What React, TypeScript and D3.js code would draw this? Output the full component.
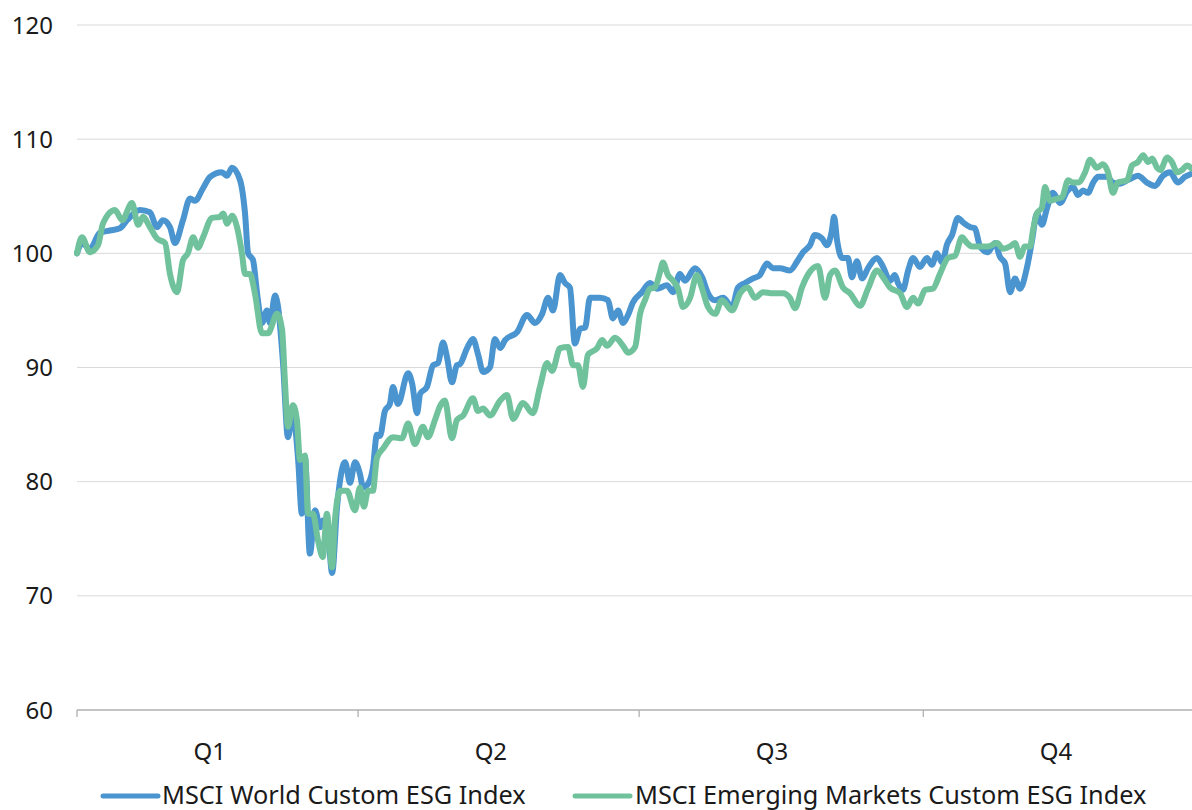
import * as d3 from "d3";

// [day offset from Jan 1, index level]
const world: [number, number][] = [
  [0, 100], [1.6, 100.9], [4.2, 100.4], [7.4, 101.8], [10.7, 102.0], [13.9, 102.2],
  [16.2, 102.9], [20.4, 103.8], [23.6, 103.6], [25.9, 102.3], [27.8, 102.9], [30.1, 102.3],
  [31.7, 100.9], [34.3, 102.9], [36.6, 104.8], [38.2, 104.6], [40.8, 105.7], [43.1, 106.7],
  [46.9, 107.1], [48.6, 106.8], [50.2, 107.5], [52.8, 106.4], [54.4, 103.5], [55.4, 100],
  [57.0, 99.4], [58.3, 96.5], [59.9, 93.9], [61.5, 95.0], [62.5, 93.9], [64.1, 96.3],
  [65.1, 95.3], [66.7, 90.4], [68.3, 83.9], [69.9, 86.0], [71.6, 81.9], [72.8, 77.2],
  [73.8, 82.1], [75.4, 73.7], [77.1, 77.5], [78.7, 76.0], [79.6, 76.6], [80.9, 76.6],
  [82.6, 72.0], [84.2, 77.8], [86.8, 81.7], [88.4, 79.9], [90.0, 81.7], [91.6, 80.7],
  [92.6, 79.5], [94.2, 79.8], [95.8, 81.2], [97.1, 84.1], [98.1, 84.0], [99.7, 86.2],
  [101.3, 86.8], [102.3, 88.3], [103.9, 86.8], [107.2, 89.5], [108.5, 88.6], [110.1, 86.0],
  [111.1, 87.7], [113.3, 88.3], [115.3, 90.2], [116.9, 90.4], [118.5, 92.2], [119.8, 90.9],
  [121.4, 88.7], [123.0, 90.2], [124.0, 90.3], [126.3, 91.7], [128.2, 92.5], [129.8, 91.2],
  [131.5, 89.6], [133.7, 90.0], [135.3, 92.5], [137.0, 91.7], [138.6, 92.4], [142.5, 93.1],
  [145.7, 94.6], [148.3, 93.9], [150.6, 94.7], [152.5, 96.1], [154.1, 95.0], [156.4, 98.1],
  [158.0, 97.4], [159.6, 97.0], [161.2, 92.1], [162.9, 93.4], [164.5, 93.5], [166.1, 96.1],
  [169.3, 96.1], [171.9, 95.9], [173.5, 94.3], [175.2, 95.0], [176.8, 93.9], [178.4, 94.6],
  [180.0, 95.7], [182.9, 96.6], [185.5, 97.4], [187.8, 96.9], [191.0, 97.2], [193.0, 96.6],
  [195.2, 98.2], [196.8, 97.6], [200.1, 98.7], [202.4, 97.9], [204.3, 96.5], [206.6, 95.9],
  [209.2, 96.1], [212.1, 95.3], [214.0, 97.0], [216.3, 97.4], [218.9, 97.8], [221.1, 98.1],
  [223.4, 99.1], [225.3, 98.7], [227.6, 98.7], [230.8, 98.5], [233.4, 99.4], [235.1, 100.1],
  [237.3, 100.7], [238.9, 101.6], [241.2, 101.3], [242.8, 100.7], [244.4, 102.0], [245.1, 103.2],
  [246.1, 101.1], [247.7, 99.6], [249.6, 99.6], [250.9, 97.9], [252.5, 99.3], [254.2, 97.8],
  [256.1, 98.7], [259.0, 99.6], [261.0, 98.8], [263.2, 97.6], [264.8, 98.1], [265.8, 97.4],
  [267.4, 96.8], [269.1, 98.5], [270.7, 99.6], [272.9, 98.8], [275.2, 99.6], [276.8, 99.0],
  [278.4, 100.0], [280.1, 99.2], [281.7, 100.8], [283.3, 101.6], [285.2, 103.1], [286.9, 102.7],
  [289.1, 102.3], [290.7, 102.2], [292.4, 100.6], [294.9, 100.1], [297.2, 100.9], [298.8, 99.7],
  [300.5, 99.1], [302.1, 96.6], [303.7, 97.8], [305.3, 96.9], [307.6, 98.8], [309.2, 101.1],
  [310.8, 103.5], [312.4, 102.5], [314.1, 104.0], [316.0, 105.3], [318.3, 104.4], [320.5, 105.4],
  [322.5, 105.8], [324.1, 105.1], [325.7, 105.5], [327.3, 105.3], [329.0, 106.2], [330.6, 106.7],
  [333.5, 106.7], [335.4, 106.2], [337.7, 106.1], [340.0, 106.4], [341.6, 106.6], [343.5, 106.8],
  [346.4, 106.2], [349.0, 105.9], [351.6, 106.8], [353.9, 107.1], [356.4, 106.2], [358.7, 106.7],
  [361.0, 107.0],
];

const emerging: [number, number][] = [
  [0, 100], [1.6, 101.4], [4.2, 100.1], [6.8, 100.7], [8.4, 102.6], [12.3, 103.8],
  [14.6, 102.9], [17.8, 104.4], [19.8, 102.5], [21.4, 103.2], [23.6, 102.3], [25.9, 101.3],
  [28.5, 100.9], [30.1, 98.2], [32.4, 96.6], [34.3, 99.4], [35.9, 100.0], [37.6, 101.4],
  [39.2, 100.5], [40.8, 101.4], [43.7, 103.1], [46.3, 103.2], [47.3, 103.5], [48.6, 102.6],
  [50.2, 103.3], [51.8, 102.3], [53.4, 100.0], [54.4, 98.2], [56.0, 98.2], [57.6, 96.5],
  [59.9, 93.0], [61.8, 93.0], [64.8, 94.7], [66.4, 93.3], [67.3, 88.9], [68.3, 84.8],
  [69.9, 86.7], [71.2, 85.4], [72.2, 81.9], [73.8, 82.3], [74.8, 77.2], [76.4, 77.2],
  [78.0, 74.9], [79.6, 73.4], [80.9, 77.2], [82.6, 72.5], [83.5, 76.6], [85.2, 79.2],
  [87.4, 79.2], [90.0, 77.5], [91.6, 79.5], [92.9, 77.8], [94.2, 79.2], [95.8, 79.2],
  [97.1, 82.1], [99.1, 82.9], [102.3, 83.9], [105.2, 83.8], [107.2, 85.1], [109.4, 83.3],
  [112.0, 84.8], [113.6, 83.9], [115.9, 85.4], [117.5, 86.6], [119.1, 87.1], [121.4, 83.8],
  [123.0, 85.4], [125.0, 85.8], [128.2, 87.3], [129.8, 86.2], [131.5, 86.4], [133.7, 85.8],
  [137.0, 87.1], [139.2, 87.6], [141.2, 85.5], [144.4, 86.9], [147.6, 86.0], [149.9, 88.3],
  [152.2, 90.4], [153.8, 89.7], [156.4, 91.7], [159.0, 91.8], [160.6, 90.2], [162.2, 90.2],
  [163.8, 88.3], [165.4, 91.1], [168.4, 91.7], [170.0, 92.4], [171.6, 91.9], [174.2, 92.6],
  [176.8, 91.9], [178.4, 91.3], [180.7, 91.8], [182.3, 94.7], [183.9, 95.9], [185.5, 96.9],
  [187.1, 97.0], [188.8, 98.4], [189.7, 99.2], [191.3, 98.1], [193.0, 97.6], [194.6, 96.9],
  [196.2, 95.3], [198.5, 96.1], [200.7, 98.1], [202.4, 96.9], [204.3, 95.3], [206.6, 94.7],
  [208.8, 95.9], [212.1, 95.0], [214.7, 96.5], [217.2, 97.0], [219.5, 96.1], [222.1, 96.6],
  [225.3, 96.5], [228.6, 96.5], [230.8, 96.1], [232.5, 95.2], [234.7, 97.0], [237.3, 98.4],
  [239.9, 98.9], [242.2, 96.1], [243.8, 98.1], [245.4, 98.5], [248.0, 97.0], [250.3, 96.5],
  [253.5, 95.4], [256.1, 96.9], [259.0, 98.5], [261.0, 97.9], [263.2, 97.0], [266.5, 96.5],
  [268.7, 95.3], [270.7, 96.1], [272.3, 95.6], [274.6, 96.8], [277.1, 96.9], [279.4, 98.2],
  [282.0, 99.6], [284.3, 99.8], [286.5, 101.4], [288.2, 100.9], [289.8, 100.6], [292.4, 100.6],
  [294.9, 100.6], [297.9, 100.9], [299.8, 100.4], [302.1, 100.6], [303.7, 100.9], [305.3, 99.7],
  [306.9, 100.6], [308.6, 100.6], [309.5, 102.0], [310.8, 103.5], [312.4, 104.0], [313.4, 105.8],
  [315.0, 104.6], [317.3, 104.8], [318.9, 104.9], [320.9, 106.4], [322.5, 106.2], [324.1, 106.2],
  [326.4, 107.1], [328.0, 108.2], [330.2, 107.5], [332.2, 107.8], [333.8, 107.1], [335.4, 105.3],
  [337.0, 106.2], [340.0, 106.4], [341.6, 107.7], [343.5, 108.0], [345.2, 108.6], [346.8, 108.0],
  [348.1, 108.3], [349.7, 107.5], [350.7, 107.3], [353.0, 108.4], [354.5, 108.0], [356.2, 107.1],
  [357.8, 107.3], [359.4, 107.7], [361.0, 107.4],
];

const yTicks = [60, 70, 80, 90, 100, 110, 120];
const quarterStarts = [0, 91, 182, 274];
const quarterLabels = ["Q1", "Q2", "Q3", "Q4"];
const seriesNames = ["MSCI World Custom ESG Index", "MSCI Emerging Markets Custom ESG Index"];
const colors = ["#4a94cf", "#70c29c"];

const W = 1192;
const H = 810;
const FONT = "'Noto Sans', 'Open Sans', sans-serif";

export default function App() {
  const x = d3.scaleLinear().domain([0, 361]).range([77, 1192]);
  const y = d3.scaleLinear().domain([60, 120]).range([710, 25]);

  const line = d3
    .line<[number, number]>()
    .x((d) => x(d[0]))
    .y((d) => y(d[1]))
    .curve(d3.curveMonotoneX);

  const series = [world, emerging];

  // legend layout: [line start, line end, text start]
  const legendPos = [
    [103, 158, 162],
    [575, 630, 635],
  ];

  return (
    <div style={{ position: "absolute", left: 0, top: 0 }}>
      <svg width={W} height={H} style={{ display: "block", background: "#fff" }}>
        {/* gridlines */}
        {yTicks
          .filter((t) => t !== 60)
          .map((t) => (
            <line key={t} x1={77} x2={W} y1={y(t)} y2={y(t)} stroke="#d9d9d9" strokeWidth={1} />
          ))}
        {/* y labels */}
        {yTicks.map((t) => (
          <text
            key={"l" + t}
            x={53}
            y={y(t)}
            dy="0.36em"
            textAnchor="end"
            fontFamily={FONT}
            fontSize={24}
            fill="#1a1a1a"
          >
            {t}
          </text>
        ))}
        {/* x axis */}
        <line x1={77} x2={W} y1={y(60)} y2={y(60)} stroke="#b0b0b0" strokeWidth={1.3} />
        {quarterStarts.map((q) => (
          <line key={"t" + q} x1={x(q)} x2={x(q)} y1={y(60)} y2={y(60) + 7} stroke="#b0b0b0" strokeWidth={1.3} />
        ))}
        {quarterStarts.map((q, i) => (
          <text
            key={"q" + q}
            x={x(q + 43)}
            y={760}
            textAnchor="middle"
            fontFamily={FONT}
            fontSize={24}
            fill="#1a1a1a"
          >
            {quarterLabels[i]}
          </text>
        ))}
        {/* lines */}
        {series.map((s, i) => (
          <path
            key={"s" + i}
            d={line(s) ?? ""}
            fill="none"
            stroke={colors[i]}
            strokeWidth={6}
            strokeLinejoin="round"
            strokeLinecap="round"
          />
        ))}
        {/* legend */}
        {seriesNames.map((name, i) => (
          <g key={"lg" + i}>
            <line
              x1={legendPos[i][0]}
              x2={legendPos[i][1]}
              y1={796}
              y2={796}
              stroke={colors[i]}
              strokeWidth={5}
              strokeLinecap="round"
            />
            <text x={legendPos[i][2]} y={804} fontFamily={FONT} fontSize={25.3} fill="#1a1a1a">
              {name}
            </text>
          </g>
        ))}
      </svg>
    </div>
  );
}
